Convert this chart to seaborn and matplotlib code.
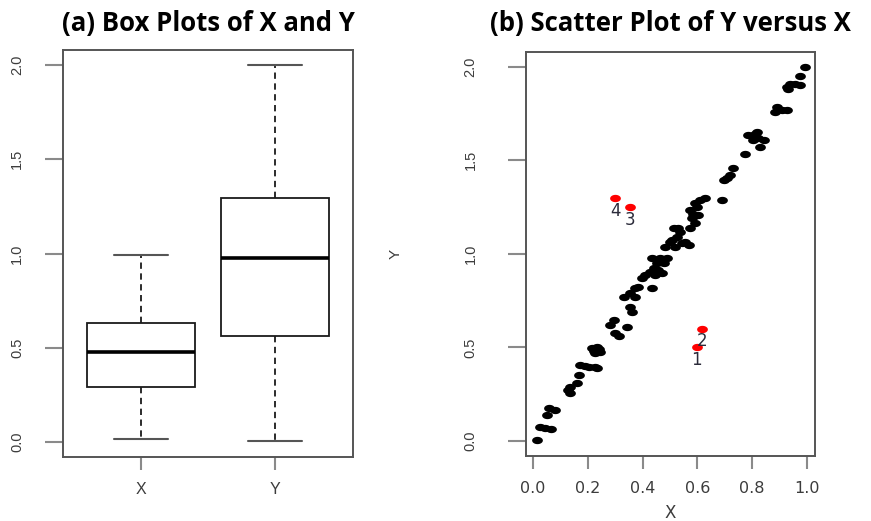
import numpy as np
import pandas as pd
import matplotlib
matplotlib.use("Agg")
import matplotlib.pyplot as plt
from matplotlib.path import Path
import seaborn as sns

# ---- data -------------------------------------------------------------
# regular observations (lie close to the line Y = 2X)
x_main = [0.014, 0.025, 0.045, 0.065, 0.050, 0.057, 0.080, 0.128, 0.136, 0.136,
          0.161, 0.168, 0.173, 0.190, 0.203, 0.227, 0.234, 0.215, 0.234, 0.246,
          0.227, 0.222, 0.240,
          0.282, 0.294, 0.300, 0.315, 0.343, 0.355, 0.361, 0.331, 0.355, 0.373,
          0.373, 0.385, 0.434, 0.398, 0.410, 0.428, 0.440, 0.458, 0.471, 0.453,
          0.465, 0.434, 0.446, 0.477,
          0.483, 0.489, 0.501, 0.519, 0.507, 0.526, 0.538, 0.531, 0.513, 0.556,
          0.568, 0.545, 0.574, 0.592, 0.580, 0.574, 0.592, 0.611, 0.629, 0.604,
          0.585, 0.600, 0.690,
          0.696, 0.708, 0.720, 0.732, 0.775, 0.787, 0.818, 0.823, 0.842, 0.805,
          0.830, 0.812, 0.884, 0.890, 0.909, 0.927, 0.927, 0.939, 0.957, 0.976,
          0.933, 0.976, 0.993]
y_main = [0.005, 0.075, 0.070, 0.065, 0.140, 0.175, 0.165, 0.272, 0.258, 0.290,
          0.311, 0.353, 0.406, 0.400, 0.397, 0.394, 0.388, 0.495, 0.504, 0.477,
          0.468, 0.482, 0.490,
          0.620, 0.646, 0.575, 0.560, 0.610, 0.717, 0.690, 0.771, 0.789, 0.771,
          0.816, 0.824, 0.816, 0.869, 0.887, 0.904, 0.922, 0.913, 0.896, 0.949,
          0.976, 0.976, 0.887, 0.950,
          1.038, 0.976, 1.065, 1.038, 1.074, 1.091, 1.118, 1.136, 1.136, 1.065,
          1.047, 1.060, 1.136, 1.163, 1.190, 1.234, 1.270, 1.287, 1.296, 1.207,
          1.215, 1.250, 1.287,
          1.394, 1.403, 1.421, 1.457, 1.533, 1.635, 1.652, 1.617, 1.608, 1.608,
          1.572, 1.640, 1.759, 1.786, 1.768, 1.768, 1.891, 1.909, 1.909, 1.900,
          1.882, 1.950, 1.998]

# unusual observations, numbered 1-4
x_odd = [0.598, 0.618, 0.353, 0.300]
y_odd = [0.500, 0.600, 1.248, 1.296]
odd_labels = ["1", "2", "3", "4"]

box_categories = ["X", "Y"]
y_ticks = [0.0, 0.5, 1.0, 1.5, 2.0]
y_ticklabels = ["0.0", "0.5", "1.0", "1.5", "2.0"]
x_ticks = [0.0, 0.2, 0.4, 0.6, 0.8, 1.0]
x_ticklabels = ["0.0", "0.2", "0.4", "0.6", "0.8", "1.0"]

titles = ["(a) Box Plots of X and Y", "(b) Scatter Plot of Y versus X"]

# ---- styling ------------------------------------------------------------
sns.set_style("white")
plt.rcParams["font.family"] = ["Liberation Sans", "DejaVu Sans"]

frame_col = "#555555"
tick_col = "#8a8a8a"
label_col = "#3c3c3c"

X_all = np.array(x_main + x_odd)
Y_all = np.array(y_main + y_odd)
long_df = pd.DataFrame({
    "variable": ["X"] * len(X_all) + ["Y"] * len(Y_all),
    "value": np.concatenate([X_all, Y_all]),
})

fig = plt.figure(figsize=(8.71, 5.21), dpi=100)
ax1 = fig.add_axes([63 / 871, 64 / 521, 290 / 871, 407 / 521])
ax2 = fig.add_axes([526 / 871, 65 / 521, 289 / 871, 404 / 521])

# ---- (a) box plots ----------------------------------------------------
sns.boxplot(data=long_df, x="variable", y="value", order=box_categories,
            width=0.8, color="white", linecolor="#1a1a1a", linewidth=1.3,
            saturation=1, whis=1.5, ax=ax1,
            whiskerprops={"linestyle": (0, (3.5, 2.5))},
            medianprops={"linewidth": 2.6, "color": "black"},
            capprops={"color": "#555555", "linewidth": 1.5})
ax1.set_xlim(-0.58, 1.58)
ax1.set_ylim(-0.08, 2.08)
ax1.set_xlabel("")
ax1.set_ylabel("")
ax1.set_yticks(y_ticks)
ax1.set_yticklabels(y_ticklabels, rotation=90, va="center")
ax1.tick_params(axis="y", pad=15)
ax1.tick_params(axis="x", pad=9, labelsize=11.5)

# ---- (b) scatter plot -------------------------------------------------
t = np.linspace(0, 2 * np.pi, 40)
ellipse = Path(np.column_stack([np.cos(t), 0.68 * np.sin(t)]), closed=True)

sns.scatterplot(x=x_main, y=y_main, color="black", marker=ellipse, s=60,
                linewidth=0, ax=ax2)
sns.scatterplot(x=x_odd, y=y_odd, color="#ff0000", marker=ellipse, s=60,
                linewidth=0, ax=ax2)
for xv, yv, lab in zip(x_odd, y_odd, odd_labels):
    ax2.annotate(lab, (xv, yv), xytext=(0, -9), textcoords="offset points",
                 ha="center", va="center", fontsize=12, color="#2b2b3a",
                 family=["DejaVu Sans"])
ax2.set_xlim(-0.026, 1.03)
ax2.set_ylim(-0.08, 2.078)
ax2.set_xticks(x_ticks)
ax2.set_xticklabels(x_ticklabels, family=["DejaVu Sans"], fontsize=11.5)
ax2.set_yticks(y_ticks)
ax2.set_yticklabels(y_ticklabels, rotation=90, va="center")
ax2.tick_params(axis="y", pad=22)
ax2.tick_params(axis="x", pad=9)
ax2.set_xlabel("X", fontsize=12, color=label_col, labelpad=6,
               family=["DejaVu Sans"])
ax2.set_ylabel("Y", fontsize=11, color=label_col, labelpad=44)

for ax in (ax1, ax2):
    for sp in ax.spines.values():
        sp.set_color(frame_col)
        sp.set_linewidth(1.4)
    ax.tick_params(direction="out", length=9, width=1.5, color=tick_col,
                   labelcolor=label_col, bottom=True, left=True)
    ax.tick_params(axis="y", labelsize=10.5)

ax1.tick_params(axis="y", length=13)
ax2.tick_params(axis="y", length=13)

# panel titles
fig.text(208 / 871, 1 - 23 / 521, titles[0], ha="center", va="center",
         fontsize=18.5, fontweight="bold", color="black",
         family=["Open Sans", "DejaVu Sans"])
fig.text(670 / 871, 1 - 23 / 521, titles[1], ha="center", va="center",
         fontsize=18.5, fontweight="bold", color="black",
         family=["Open Sans", "DejaVu Sans"])

fig.savefig("out.png", dpi=100, facecolor="white")
